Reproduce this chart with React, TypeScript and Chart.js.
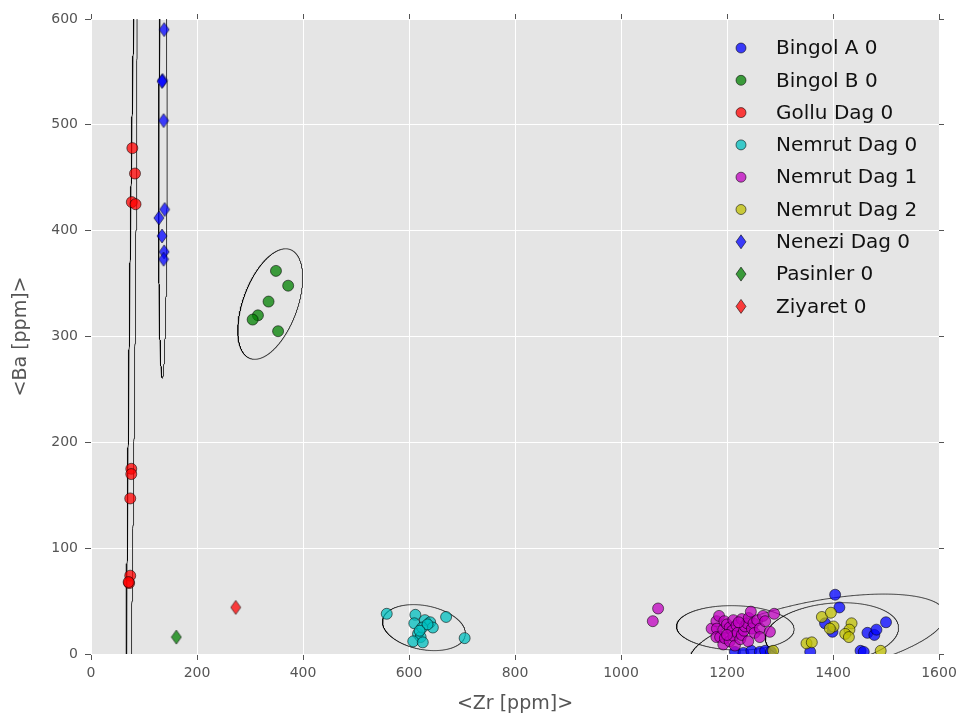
import React, { useEffect, useRef } from 'react';
import { Chart, registerables } from 'chart.js';

Chart.register(...registerables);

const WIDTH = 962;
const HEIGHT = 715;
const FONT = '"DejaVu Sans", sans-serif';
const EDGE = 'rgba(0,0,0,0.55)';
const CHI2_95 = 5.991; // 95% confidence, 2 degrees of freedom

// Axis limits and ticks
const ZR_MIN = 0;
const ZR_MAX = 1600;
const ZR_STEP = 200;
const BA_MIN = 0;
const BA_MAX = 600;
const BA_STEP = 100;

// Bingol A 0
const bingolAZr = [1215, 1231, 1246, 1262, 1272, 1283, 1357, 1385, 1399, 1404, 1412, 1452, 1458, 1465, 1478, 1482, 1500];
const bingolABa = [2, 1, 3, 2, 3, 2, 2, 29, 21, 56, 44, 3, 2, 20, 18, 23, 30];

// Bingol B 0
const bingolBZr = [349, 372, 335, 315, 305, 353];
const bingolBBa = [362, 348, 333, 320, 316, 305];

// Gollu Dag 0
const golluZr = [78, 83, 77, 84, 76, 76, 74, 74, 72, 71];
const golluBa = [478, 454, 427, 425, 175, 170, 147, 74, 67, 68];

// Nemrut Dag 0
const nemrut0Zr = [558, 612, 610, 617, 622, 608, 626, 630, 640, 645, 625, 670, 705, 635, 620];
const nemrut0Ba = [38, 37, 29, 19, 16, 12, 11, 32, 30, 25, 25, 35, 15, 28, 22];

// Nemrut Dag 1
const nemrut1Zr = [1060, 1070, 1171, 1180, 1181, 1180, 1185, 1187, 1193, 1193, 1195, 1196, 1200, 1205, 1205, 1210, 1212, 1212, 1215, 1218, 1220, 1225, 1228, 1228, 1232, 1234, 1238, 1240, 1241, 1245, 1247, 1250, 1252, 1257, 1262, 1262, 1268, 1272, 1281, 1289, 1200, 1222];
const nemrut1Ba = [31, 43, 24, 31, 24, 16, 36, 16, 23, 9, 31, 15, 28, 25, 12, 22, 32, 17, 8, 27, 20, 14, 33, 18, 22, 26, 29, 12, 34, 40, 24, 29, 20, 32, 24, 16, 36, 31, 21, 38, 18, 30];

// Nemrut Dag 2
const nemrut2Zr = [1287, 1350, 1360, 1379, 1396, 1401, 1394, 1435, 1431, 1423, 1430, 1490];
const nemrut2Ba = [3, 10, 11, 35, 39, 26, 24, 29, 23, 19, 16, 3];

// Nenezi Dag 0
const neneziZr = [138, 135, 134, 137, 139, 128, 134, 138, 137];
const neneziBa = [590, 542, 541, 504, 420, 412, 395, 380, 373];

// Pasinler 0
const pasinlerZr = [161];
const pasinlerBa = [16];

// Ziyaret 0
const ziyaretZr = [273];
const ziyaretBa = [44];

type Marker = 'circle' | 'diamond';
interface Group {
  label: string;
  zr: number[];
  ba: number[];
  rgb: string;
  marker: Marker;
  ellipse: boolean;
}

const groups: Group[] = [
  { label: 'Bingol A 0', zr: bingolAZr, ba: bingolABa, rgb: '0,0,255', marker: 'circle', ellipse: true },
  { label: 'Bingol B 0', zr: bingolBZr, ba: bingolBBa, rgb: '0,128,0', marker: 'circle', ellipse: true },
  { label: 'Gollu Dag 0', zr: golluZr, ba: golluBa, rgb: '255,0,0', marker: 'circle', ellipse: true },
  { label: 'Nemrut Dag 0', zr: nemrut0Zr, ba: nemrut0Ba, rgb: '0,191,191', marker: 'circle', ellipse: true },
  { label: 'Nemrut Dag 1', zr: nemrut1Zr, ba: nemrut1Ba, rgb: '191,0,191', marker: 'circle', ellipse: true },
  { label: 'Nemrut Dag 2', zr: nemrut2Zr, ba: nemrut2Ba, rgb: '191,191,0', marker: 'circle', ellipse: true },
  { label: 'Nenezi Dag 0', zr: neneziZr, ba: neneziBa, rgb: '0,0,255', marker: 'diamond', ellipse: true },
  { label: 'Pasinler 0', zr: pasinlerZr, ba: pasinlerBa, rgb: '0,128,0', marker: 'diamond', ellipse: false },
  { label: 'Ziyaret 0', zr: ziyaretZr, ba: ziyaretBa, rgb: '255,0,0', marker: 'diamond', ellipse: false },
];

const fillOf = (rgb: string) => `rgba(${rgb},0.75)`;

function diamondImage(fill: string, w: number, h: number): HTMLCanvasElement {
  const c = document.createElement('canvas');
  c.width = w + 2;
  c.height = h + 2;
  const g = c.getContext('2d')!;
  const cx = c.width / 2;
  const cy = c.height / 2;
  g.beginPath();
  g.moveTo(cx, cy - h / 2);
  g.lineTo(cx + w / 2, cy);
  g.lineTo(cx, cy + h / 2);
  g.lineTo(cx - w / 2, cy);
  g.closePath();
  g.fillStyle = fill;
  g.fill();
  g.strokeStyle = EDGE;
  g.lineWidth = 1;
  g.stroke();
  return c;
}

// 95% confidence ellipse from the sample covariance of a group
function confidenceEllipse(xs: number[], ys: number[], steps = 900) {
  const n = xs.length;
  const mx = xs.reduce((a, b) => a + b, 0) / n;
  const my = ys.reduce((a, b) => a + b, 0) / n;
  let sxx = 0, syy = 0, sxy = 0;
  for (let i = 0; i < n; i++) {
    const dx = xs[i] - mx;
    const dy = ys[i] - my;
    sxx += dx * dx;
    syy += dy * dy;
    sxy += dx * dy;
  }
  sxx /= n - 1;
  syy /= n - 1;
  sxy /= n - 1;
  const half = (sxx + syy) / 2;
  const disc = Math.sqrt(((sxx - syy) / 2) ** 2 + sxy * sxy);
  const l1 = half + disc;
  const l2 = Math.max(half - disc, 0);
  const theta = 0.5 * Math.atan2(2 * sxy, sxx - syy);
  const k = Math.sqrt(CHI2_95);
  const a = k * Math.sqrt(l1);
  const b = k * Math.sqrt(l2);
  const c = Math.cos(theta);
  const s = Math.sin(theta);
  const pts: { x: number; y: number }[] = [];
  for (let i = 0; i <= steps; i++) {
    const t = (2 * Math.PI * i) / steps;
    const u = a * Math.cos(t);
    const v = b * Math.sin(t);
    pts.push({ x: mx + u * c - v * s, y: my + u * s + v * c });
  }
  return pts;
}

const plotBackground = {
  id: 'plotBackground',
  beforeDraw(chart: any) {
    const { ctx, chartArea } = chart;
    ctx.save();
    ctx.fillStyle = '#E5E5E5';
    ctx.fillRect(chartArea.left, chartArea.top, chartArea.right - chartArea.left, chartArea.bottom - chartArea.top);
    ctx.restore();
  },
};

const insideLegend = {
  id: 'insideLegend',
  afterDatasetsDraw(chart: any) {
    const { ctx } = chart;
    const markerX = 741;
    const textX = 776;
    let y = 48;
    const rowGap = 32.3;
    ctx.save();
    ctx.font = `20px ${FONT}`;
    ctx.textBaseline = 'middle';
    ctx.textAlign = 'left';
    chart.data.datasets.forEach((ds: any) => {
      if (!ds.legendMarker) return;
      const fill = ds.legendFill;
      ctx.beginPath();
      if (ds.legendMarker === 'circle') {
        ctx.arc(markerX, y, 5, 0, Math.PI * 2);
      } else {
        ctx.moveTo(markerX, y - 7);
        ctx.lineTo(markerX + 5, y);
        ctx.lineTo(markerX, y + 7);
        ctx.lineTo(markerX - 5, y);
        ctx.closePath();
      }
      ctx.fillStyle = fill;
      ctx.fill();
      ctx.strokeStyle = EDGE;
      ctx.lineWidth = 1;
      ctx.stroke();
      ctx.fillStyle = '#111';
      ctx.fillText(ds.label, textX, y + 1);
      y += rowGap;
    });
    ctx.restore();
  },
};

const plainTick = (v: any) => String(v);

export default function App() {
  const canvasRef = useRef<HTMLCanvasElement | null>(null);

  useEffect(() => {
    const canvas = canvasRef.current;
    if (!canvas) return;

    const ellipseSets: any[] = groups
      .filter((g) => g.ellipse)
      .map((g) => ({
        label: `${g.label} ellipse`,
        data: confidenceEllipse(g.zr, g.ba),
        showLine: true,
        fill: false,
        pointRadius: 0,
        borderColor: 'rgba(0,0,0,0.75)',
        borderWidth: 1,
        order: 20,
      }));

    const pointSets: any[] = groups.map((g, i) => {
      const fill = fillOf(g.rgb);
      return {
        label: g.label,
        data: g.zr.map((x, j) => ({ x, y: g.ba[j] })),
        showLine: false,
        pointStyle: g.marker === 'circle' ? 'circle' : diamondImage(fill, 10, 14),
        pointRadius: 5.5,
        backgroundColor: fill,
        borderColor: EDGE,
        borderWidth: 1,
        order: -i,
        legendMarker: g.marker,
        legendFill: fill,
      };
    });

    const tickFont = { family: FONT, size: 14 };
    const titleFont = { family: FONT, size: 19 };

    const chart = new Chart(canvas, {
      type: 'scatter',
      data: { datasets: [...pointSets, ...ellipseSets] },
      options: {
        animation: false,
        responsive: false,
        devicePixelRatio: 1,
        layout: { padding: 0 },
        plugins: { legend: { display: false }, tooltip: { enabled: false } },
        scales: {
          x: {
            type: 'linear',
            position: 'bottom',
            min: ZR_MIN,
            max: ZR_MAX,
            ticks: { stepSize: ZR_STEP, color: '#555', font: tickFont, padding: 5, maxRotation: 0, callback: plainTick },
            grid: { color: '#ffffff', lineWidth: 1, tickColor: '#555', tickLength: 6 },
            border: { display: false },
            title: { display: true, text: '<Zr [ppm]>', color: '#555', font: titleFont, padding: { top: 0, bottom: 0 } },
            afterFit: (s: any) => { s.height = 61; },
          },
          y: {
            type: 'linear',
            position: 'left',
            min: BA_MIN,
            max: BA_MAX,
            ticks: { stepSize: BA_STEP, color: '#555', font: tickFont, padding: 7, callback: plainTick },
            grid: { color: '#ffffff', lineWidth: 1, tickColor: '#555', tickLength: 6 },
            border: { display: false },
            title: { display: true, text: '<Ba [ppm]>', color: '#555', font: titleFont, padding: { top: 10, bottom: 0 } },
            afterFit: (s: any) => { s.width = 91; },
          },
          x2: {
            type: 'linear',
            position: 'top',
            min: ZR_MIN,
            max: ZR_MAX,
            ticks: { stepSize: ZR_STEP, display: false },
            grid: { drawOnChartArea: false, tickColor: '#555', tickLength: 5 },
            border: { display: false },
            afterFit: (s: any) => { s.height = 19; },
          },
          y2: {
            type: 'linear',
            position: 'right',
            min: BA_MIN,
            max: BA_MAX,
            ticks: { stepSize: BA_STEP, display: false },
            grid: { drawOnChartArea: false, tickColor: '#555', tickLength: 5 },
            border: { display: false },
            afterFit: (s: any) => { s.width = 23; },
          },
        },
      } as any,
      plugins: [plotBackground, insideLegend],
    });

    return () => chart.destroy();
  }, []);

  return (
    <div style={{ position: 'fixed', left: 0, top: 0, width: WIDTH, height: HEIGHT, background: '#fff' }}>
      <canvas ref={canvasRef} width={WIDTH} height={HEIGHT} style={{ display: 'block' }} />
    </div>
  );
}
